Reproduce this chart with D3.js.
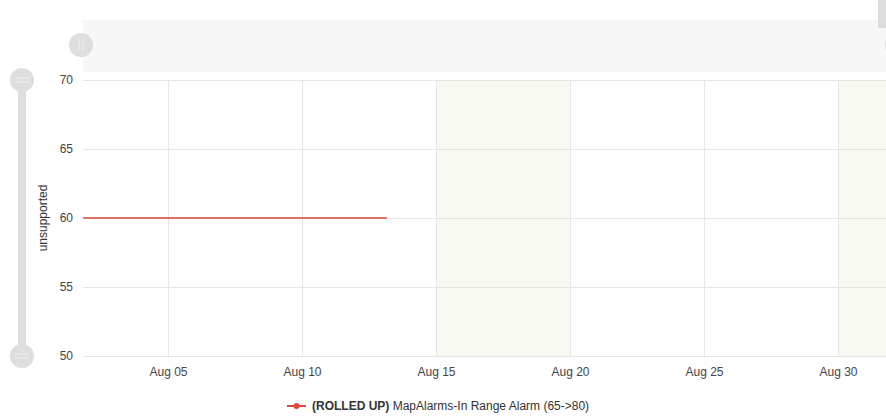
<!DOCTYPE html>
<meta charset="utf-8">
<title>Range Alarm</title>
<style>
  body { margin: 0; background: #fff; overflow: hidden; }
  text { font-family: Arial, "Liberation Sans", sans-serif; }
</style>
<body>
<script src="https://cdn.jsdelivr.net/npm/d3@7"></script>
<script>
// data
var dates = ["2023-08-01T20:00", "2023-08-05T00:00", "2023-08-09T00:00", "2023-08-13T04:00"];
var values = [60, 60, 60, 60];
var weekendBands = [["2023-08-15", "2023-08-20"], ["2023-08-30", "2023-09-04"]];
var xTickDays = ["2023-08-05", "2023-08-10", "2023-08-15", "2023-08-20", "2023-08-25", "2023-08-30"];
var yTicks = [50, 55, 60, 65, 70];
var seriesName = "MapAlarms-In Range Alarm (65->80)";
var seriesTag = "(ROLLED UP)";
var yLabel = "unsupported";

var parse = d3.timeParse("%Y-%m-%dT%H:%M");
var parseDay = d3.timeParse("%Y-%m-%d");
var data = dates.map(function(d, i) { return {date: parse(d), value: values[i]}; });
var xTicks = xTickDays.map(parseDay);

// dimensions
var W = 886, H = 418;
var margin = {top: 80, left: 83, bottom: 62};
var plotH = H - margin.top - margin.bottom;

var x = d3.scaleTime()
    .domain([parse("2023-08-01T19:52"), parse("2023-08-31T19:00")])
    .range([margin.left, W]);
var y = d3.scaleLinear().domain([50, 70]).range([margin.top + plotH, margin.top]);

var svg = d3.select("body").append("svg")
    .attr("width", W)
    .attr("height", H);

// navigator band on top
svg.append("rect")
    .attr("x", 83).attr("y", 20)
    .attr("width", W - 83).attr("height", 52)
    .attr("fill", "#f7f7f7");
svg.append("rect")
    .attr("x", 878).attr("y", 0)
    .attr("width", 10).attr("height", 28)
    .attr("fill", "#dcdcdc");

function handle(cx, cy, vertical) {
  var g = svg.append("g");
  g.append("circle").attr("cx", cx).attr("cy", cy).attr("r", 12).attr("fill", "#dedede");
  if (vertical) {
    g.append("line").attr("x1", cx - 2).attr("x2", cx - 2).attr("y1", cy - 6).attr("y2", cy + 6)
      .attr("stroke", "#f0f0f0").attr("stroke-width", 1);
    g.append("line").attr("x1", cx + 2).attr("x2", cx + 2).attr("y1", cy - 6).attr("y2", cy + 6)
      .attr("stroke", "#f0f0f0").attr("stroke-width", 1);
  } else {
    g.append("line").attr("x1", cx - 7).attr("x2", cx + 7).attr("y1", cy - 2).attr("y2", cy - 2)
      .attr("stroke", "#f0f0f0").attr("stroke-width", 1);
    g.append("line").attr("x1", cx - 7).attr("x2", cx + 7).attr("y1", cy + 2).attr("y2", cy + 2)
      .attr("stroke", "#f0f0f0").attr("stroke-width", 1);
  }
}
handle(81, 45, true);
handle(897, 45, true);

// vertical slider on left
svg.append("rect")
    .attr("x", 18).attr("y", y(70))
    .attr("width", 8).attr("height", y(50) - y(70))
    .attr("fill", "#dedede");
handle(22, y(70), false);
handle(22, y(50), false);

// weekend bands
svg.append("g").selectAll("rect")
    .data(weekendBands)
    .enter().append("rect")
    .attr("x", function(d) { return x(parseDay(d[0])); })
    .attr("y", y(70))
    .attr("width", function(d) { return x(parseDay(d[1])) - x(parseDay(d[0])); })
    .attr("height", y(50) - y(70))
    .attr("fill", "#f8f9f0");

// grid
svg.append("g")
    .selectAll("line")
    .data(yTicks)
    .enter().append("line")
    .attr("x1", margin.left).attr("x2", W)
    .attr("y1", function(d) { return y(d) + 0.5; })
    .attr("y2", function(d) { return y(d) + 0.5; })
    .attr("stroke", "#e6e6e6");

svg.append("g")
    .selectAll("line")
    .data(xTicks)
    .enter().append("line")
    .attr("x1", function(d) { return Math.round(x(d)) + 0.5; })
    .attr("x2", function(d) { return Math.round(x(d)) + 0.5; })
    .attr("y1", y(70)).attr("y2", y(50))
    .attr("stroke", "#e6e6e6");

// axes
var xAxis = svg.append("g")
    .attr("transform", "translate(0," + (y(50) + 3) + ")")
    .call(d3.axisBottom(x).tickValues(xTicks).tickFormat(d3.timeFormat("%b %d")).tickSize(0).tickPadding(8));
xAxis.select(".domain").remove();
xAxis.selectAll("text").attr("fill", "#444").style("font-size", "12px");

var yAxis = svg.append("g")
    .attr("transform", "translate(" + 73 + ",0)")
    .call(d3.axisLeft(y).tickValues(yTicks).tickSize(0).tickPadding(0));
yAxis.select(".domain").remove();
yAxis.selectAll("text").attr("fill", "#444").style("font-size", "12px");

svg.append("text")
    .attr("transform", "translate(47," + y(60) + ") rotate(-90)")
    .attr("text-anchor", "middle")
    .attr("fill", "#333")
    .style("font-size", "12px")
    .text(yLabel);

// series line
var line = d3.line()
    .x(function(d) { return x(d.date); })
    .y(function(d) { return y(d.value); });
svg.append("path")
    .datum(data)
    .attr("fill", "none")
    .attr("stroke", "#e36f62")
    .attr("stroke-width", 2)
    .attr("d", line);

// legend
var lg = svg.append("g").attr("transform", "translate(287,406)");
lg.append("line").attr("x1", 0).attr("x2", 19).attr("y1", 0).attr("y2", 0)
    .attr("stroke", "#e0463c").attr("stroke-width", 2);
lg.append("circle").attr("cx", 9.5).attr("cy", 0).attr("r", 3).attr("fill", "#e0463c");
var lt = lg.append("text").attr("x", 25).attr("y", 4).style("font-size", "12px").attr("fill", "#333");
lt.append("tspan").style("font-weight", "bold").text(seriesTag);
lt.append("tspan").text(" " + seriesName);
</script>
</body>
